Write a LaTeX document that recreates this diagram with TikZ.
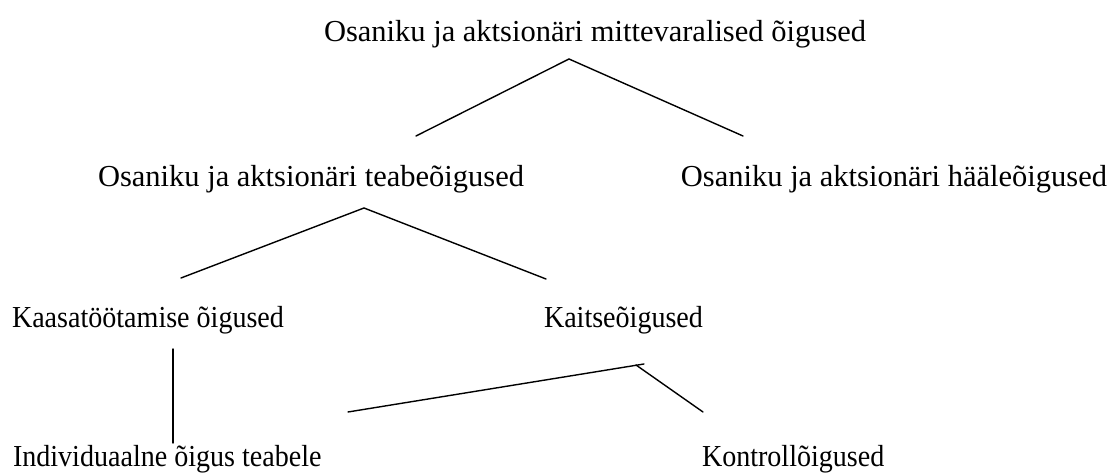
\documentclass[tikz,border=0pt]{standalone}
\usepackage{fontspec}
\setmainfont{Liberation Serif}
\newfontfamily\condfont[FakeStretch=0.92]{Liberation Serif}
\begin{document}
\begin{tikzpicture}[x=0.5pt,y=-0.5pt,
  lbl/.style={inner sep=0pt,outer sep=0pt,font=\fontsize{15.25pt}{18pt}\selectfont},
  lbls/.style={inner sep=0pt,outer sep=0pt,font=\condfont\fontsize{15.25pt}{18pt}\selectfont},
  conn/.style={line width=0.7pt,line cap=round}]
\useasboundingbox (0,0) rectangle (1116,474);
% texts
\node[lbl,anchor=base west] (root) at (324,42) {Osaniku ja aktsionäri mittevaralised õigused};
\node[lbl,anchor=base west] (teave) at (98,187) {Osaniku ja aktsionäri teabeõigused};
\node[lbl,anchor=base east] (haal) at (1107,187) {Osaniku ja aktsionäri hääleõigused};
\node[lbls,anchor=base west] (kaasa) at (12,328) {Kaasatöötamise õigused};
\node[lbls,anchor=base west] (kaitse) at (544,328) {Kaitseõigused};
\node[lbls,anchor=base west] (indiv) at (13,467) {Individuaalne õigus teabele};
\node[lbls,anchor=base west] (kontroll) at (702,467) {Kontrollõigused};
% connector end points
\coordinate (r0) at (569,59);
\coordinate (r1) at (416,136);
\coordinate (r2) at (743,136);
\coordinate (t0) at (364,208);
\coordinate (t1) at (181,278);
\coordinate (t2) at (546,279);
\coordinate (k0) at (173,349);
\coordinate (k1) at (173,443);
\coordinate (s0) at (644,364);
\coordinate (s1) at (348,412);
\coordinate (s2) at (636,365);
\coordinate (s3) at (703,412);
% connectors
\draw[conn] (r1) -- (r0) -- (r2);
\draw[conn] (t1) -- (t0) -- (t2);
\draw[conn] (k0) -- (k1);
\draw[conn] (s1) -- (s0);
\draw[conn] (s2) -- (s3);
\end{tikzpicture}
\end{document}
